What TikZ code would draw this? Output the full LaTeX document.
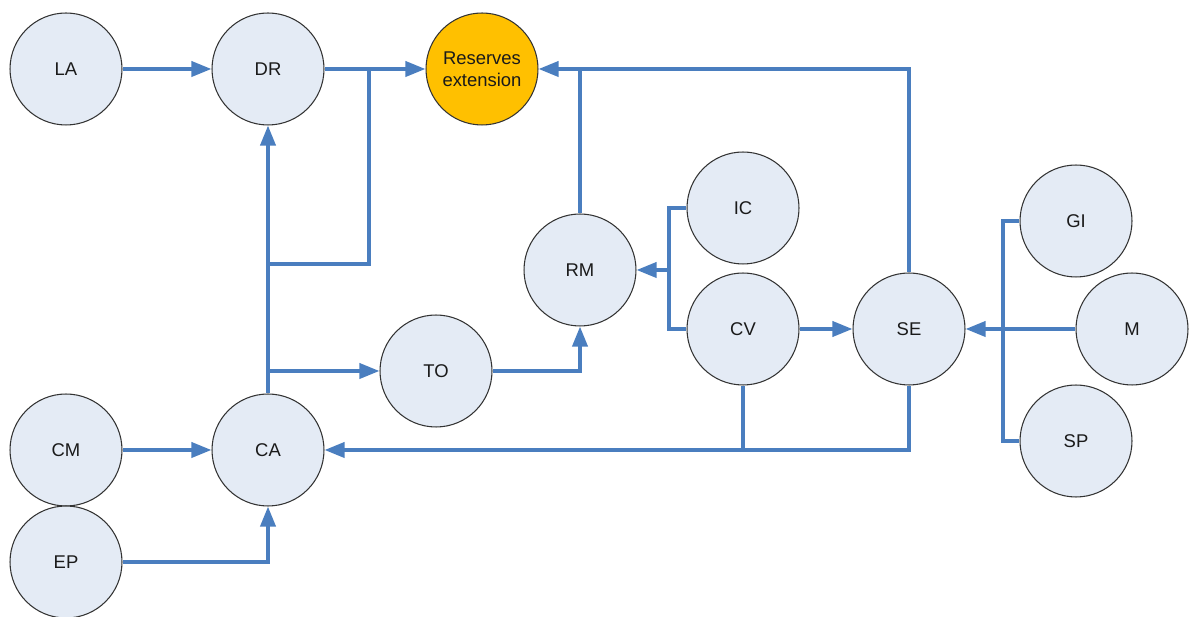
\documentclass[tikz,border=0pt]{standalone}
\usepackage{fontspec}
\setmainfont{Liberation Sans}
\usepackage{tikz}
\usetikzlibrary{positioning,arrows.meta}
\definecolor{FlowBlue}{HTML}{4A7EBF}
\definecolor{BubbleFill}{HTML}{E4EBF5}
\definecolor{BubbleEdge}{HTML}{333333}
\definecolor{GoalGold}{HTML}{FFC000}
\definecolor{TextDark}{HTML}{1A1A1A}

\begin{document}
\begin{tikzpicture}[x=0.02cm, y=-0.02cm,
    every node/.style={font=\fontsize{10.5}{12.5}\selectfont, text=TextDark},
    bubble/.style={circle, draw=BubbleEdge, fill=BubbleFill, line width=0.6pt,
      minimum size=2.24cm, inner sep=0pt, align=center},
    goal/.style={bubble, fill=GoalGold},
    flow/.style={draw=FlowBlue, line width=2.1pt, -{Triangle[length=0.4cm,width=0.3cm]}},
    link/.style={draw=FlowBlue, line width=1.8pt}]
        \useasboundingbox (0,0) rectangle (1197,617);
        % circles
        \node[bubble] (LA) at (66,69)   {LA};
        \node[bubble] (DR) at (268,69)  {DR};
        \node[goal]   (RE) at (482,69)  {Reserves\\extension};
        \node[bubble] (RM) at (580,270) {RM};
        \node[bubble] (IC) at (743,208) {IC};
        \node[bubble] (CV) at (743,329) {CV};
        \node[bubble] (SE) at (909,329) {SE};
        \node[bubble] (GI) at (1076,221) {GI};
        \node[bubble] (M)  at (1132,329) {M};
        \node[bubble] (SP) at (1076,441) {SP};
        \node[bubble] (TO) at (436,371) {TO};
        \node[bubble] (CM) at (66,450)  {CM};
        \node[bubble] (CA) at (268,450) {CA};
        \node[bubble] (EP) at (66,562)  {EP};
        % junction points
        \coordinate (kCA) at (268,264);
        \coordinate (kRE) at (369,69);
        \coordinate (kIC) at (669,270);
        \coordinate (kGI) at (1003,329);
        % connectors
        \draw[flow] (LA) -- (DR);
        \draw[flow] (DR) -- (RE);
        \draw[flow] (CA) -- (DR);
        \draw[link] (kCA) -| (kRE);
        \draw[flow] (CA |- TO) -- (TO);
        \draw[flow] (TO) -| (RM);
        \draw[link] (RM) -- (RM |- RE);
        \draw[flow] (SE) |- (RE);
        \draw[link] (IC.west) -| (kIC) |- (CV.west);
        \draw[flow] (kIC) -- (RM);
        \draw[flow] (CV) -- (SE);
        \draw[link] (GI.west) -| (kGI) |- (SP.west);
        \draw[flow] (M) -- (SE);
        \draw[link] (CV) -- (CV |- CA);
        \draw[flow] (SE) |- (CA);
        \draw[flow] (CM) -- (CA);
        \draw[flow] (EP) -| (CA);
      \end{tikzpicture}
\end{document}
